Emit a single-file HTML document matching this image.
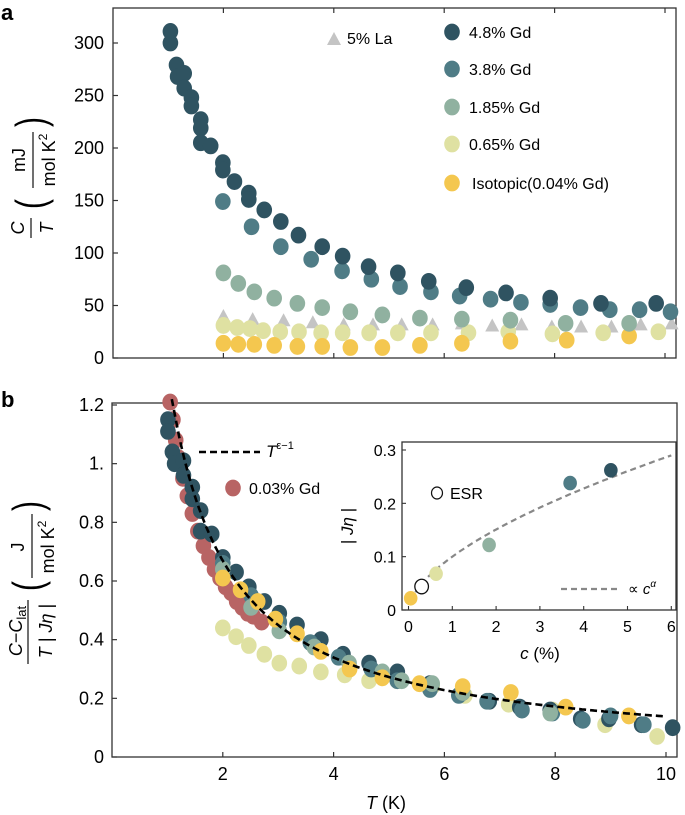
<!DOCTYPE html>
<html><head><meta charset="utf-8"><style>
html,body{margin:0;padding:0;background:#fff}
svg{display:block;font-family:"Liberation Sans",sans-serif}
</style></head><body>
<svg id="fig" width="685" height="815" viewBox="0 0 685 815" xmlns="http://www.w3.org/2000/svg">
<text x="1" y="20" font-size="22" font-weight="bold">a</text>
<text x="1" y="407" font-size="22" font-weight="bold">b</text>
<g id="ga"></g>
<g id="gb"></g>
<g id="gi"></g>
<g transform="translate(33,180) rotate(-90)" font-size="18" text-anchor="middle">
 <text x="-48" y="-9" font-style="italic">C</text>
 <line x1="-58" y1="-2" x2="-38" y2="-2" stroke="#222" stroke-width="1.3"/>
 <text x="-48" y="20" font-style="italic">T</text>
 <text transform="translate(-24,12) scale(1,1.4)" font-size="30">(</text>
 <text x="20" y="-8">mJ</text>
 <line x1="-8" y1="0" x2="48" y2="0" stroke="#222" stroke-width="1.3"/>
 <text x="20" y="22">mol K<tspan font-size="12" dy="-8">2</tspan></text>
 <text transform="translate(58,12) scale(1,1.4)" font-size="30">)</text>
</g>
<g transform="translate(30,600) rotate(-90)" font-size="18" text-anchor="middle">
 <text x="-31" y="-8"><tspan font-style="italic">C</tspan>−<tspan font-style="italic">C</tspan><tspan font-size="13" dy="4">lat</tspan></text>
 <line x1="-64" y1="-2" x2="0" y2="-2" stroke="#222" stroke-width="1.3"/>
 <text x="-31" y="22"><tspan font-style="italic">T</tspan> | <tspan font-style="italic">Jη</tspan> |</text>
 <text transform="translate(14,12) scale(1,1.4)" font-size="30">(</text>
 <text x="53" y="-6">J</text>
 <line x1="22" y1="2" x2="86" y2="2" stroke="#222" stroke-width="1.3"/>
 <text x="53" y="24">mol K<tspan font-size="12" dy="-8">2</tspan></text>
 <text transform="translate(94,12) scale(1,1.4)" font-size="30">)</text>
</g>
<text x="386" y="809" font-size="18" text-anchor="middle"><tspan font-style="italic">T</tspan> (K)</text>
<text x="540" y="659" font-size="17" text-anchor="middle"><tspan font-style="italic">c</tspan> (%)</text>
<text transform="translate(353,526) rotate(-90)" font-size="17" text-anchor="middle">| <tspan font-style="italic">Jη</tspan> |</text>
</svg>
<script>
const aT48=[1.04,1.04,1.15,1.17,1.29,1.29,1.42,1.42,1.59,1.59,1.59,1.77,1.99,1.99,2.2,2.46,2.46,2.74,3.04,3.36,3.79,4.16,4.63,5.16,5.72,6.4,7.12,7.92,8.84,9.84];
const aY48=[311,300,279,268,271,257,248,240,227,219,205,202,186,179,168,157,151,141,130,117,106,97,87,81,73,67,62,57,52,52];
const aT38=[1.99,2.51,3.04,3.59,4.15,4.68,5.2,5.76,6.28,6.84,7.39,7.92,8.47,9.0,9.54,10.1];
const aY38=[149,125,106,94,83,75,68,63,59,56,53,51,48,46,46,44];
const aT185=[2.0,2.27,2.56,2.92,3.34,3.79,4.3,4.88,5.56,6.32,7.2,8.2,9.35];
const aY185=[81,71,63,57,52,48,44,41,38,37,36,33,33];
const aT065=[2.0,2.25,2.48,2.72,3.03,3.37,3.77,4.16,4.64,5.16,5.76,6.44,7.16,7.96,8.88,9.88];
const aY065=[31,29,28,26,25,25,24,24,24,24,24,24,25,23,24,25];
const aTiso=[2,2.27,2.56,2.92,3.34,3.79,4.3,4.88,5.56,6.32,7.2,8.22,9.35];
const aYiso=[14,13,13,12,11,11,10,10,12,14,16,17,21];
const aTLa=[2.0,2.53,3.09,3.62,4.18,4.71,5.23,5.79,6.32,6.87,7.4,7.95,8.48,9.03,9.56,10.12];
const aYLa=[40,37,36,34,32,32,32,32,33,31,32,30,30,30,32,33];
const aYTicks=[0,50,100,150,200,250,300];
const bT003=[1.05,1.1,1.15,1.2,1.28,1.36,1.45,1.55,1.65,1.75,1.85,1.95,2.05,2.15,2.25,2.35,2.45,2.55,2.7];
const bY003=[1.21,1.15,1.08,1.02,0.95,0.89,0.83,0.77,0.72,0.68,0.64,0.61,0.58,0.56,0.53,0.51,0.49,0.48,0.46];
const bT48=[1.01,1.01,1.09,1.13,1.29,1.29,1.45,1.45,1.6,1.6,1.8,2.0,2.24,2.47,2.75,3.02,3.34,3.77,4.17,4.64,5.15,5.74,6.33,6.81,7.36,7.91,8.46,8.97,9.56,10.12];
const bY48=[1.15,1.11,1.04,1.0,1.01,0.96,0.92,0.88,0.84,0.77,0.76,0.68,0.63,0.58,0.53,0.49,0.45,0.4,0.35,0.32,0.29,0.25,0.22,0.19,0.17,0.16,0.13,0.13,0.11,0.10];
const bT38=[2.0,2.51,3.02,3.58,4.09,4.68,5.15,5.74,6.26,6.77,7.4,7.95,8.5,9.0,9.6];
const bY38=[0.66,0.55,0.46,0.39,0.34,0.30,0.26,0.23,0.21,0.19,0.16,0.15,0.125,0.14,0.11];
const bT185=[2.0,2.51,3.02,3.65,4.28,4.88,5.23,5.78,6.33,7.91];
const bY185=[0.64,0.51,0.43,0.375,0.32,0.29,0.26,0.25,0.22,0.15];
const bT065=[2.0,2.24,2.47,2.75,3.02,3.38,3.77,4.2,4.64,5.15,5.78,6.37,7.16,7.95,8.9,9.84];
const bY065=[0.44,0.41,0.38,0.35,0.32,0.31,0.29,0.28,0.26,0.26,0.24,0.21,0.18,0.16,0.11,0.07];
const bTiso=[2.0,2.32,2.63,2.95,3.34,3.77,4.29,4.88,5.55,6.33,7.2,8.19,9.33];
const bYiso=[0.61,0.57,0.53,0.47,0.42,0.36,0.30,0.27,0.25,0.24,0.22,0.17,0.14];
const fitAmp=[1.32];
const fitExp=[-0.98];
const fitRange=[1.08,10];
const bYTicks=[0,0.2,0.4,0.6,0.8,1.0,1.2];
const bYTickLabels=["0","0.2","0.4","0.6","0.8","1.","1.2"];
const xTicks=[2,4,6,8,10];
const iC=[0.05,0.63,1.84,3.69,4.62];
const iJ=[0.022,0.068,0.122,0.238,0.262];
const iESR=[[0.3,0.044]];
const iFitA=[0.1], iFitAlpha=[0.594], iFitRange=[0.05,6];
const iXTicks=[0,1,2,3,4,5,6];
const iYTicks=[0,0.1,0.2,0.3];

const C48="#2f5361",C38="#4f7c86",C185="#90b1a0",C065="#dfe1a2",CISO="#f4c74f",CLA="#c4c4c4",C003="#b86464";
const NS="http://www.w3.org/2000/svg";
function mk(parent,tag,attrs){const e=document.createElementNS(NS,tag);for(const k in attrs)e.setAttribute(k,attrs[k]);parent.appendChild(e);return e;}
const ax=t=>113+t*55.2;
const ay=v=>358-v*(315/300);
const bx=t=>112+t*55.4;
const by=v=>757-v*(352/1.2);
const ix=c=>408.5+c*43.8;
const iy=j=>610-j*(160/0.3);
const R=7.8;
function frame(g,x0,y0,x1,y1,name){
  const r=mk(g,'rect',{x:x0,y:y0,width:x1-x0,height:y1-y0,fill:'none',stroke:'#333','stroke-width':1.3});
  
  
}
function dots(g,xs,ys,fx,fy,col,name,r){
  for(let i=0;i<xs.length;i++){
    const c=mk(g,'ellipse',{cx:fx(xs[i]),cy:fy(ys[i]),rx:r||R,ry:(r||R)+0.6,fill:col});
    
    
  }
}
function tri(g,x,y,col){return mk(g,'polygon',{points:`${x},${y-7} ${x-7},${y+6} ${x+7},${y+6}`,fill:col});}
function txt(g,x,y,s,size,anchor){const t=mk(g,'text',{x:x,y:y,'font-size':size,'text-anchor':anchor||'start'});t.textContent=s;return t;}

const ga=document.getElementById('ga');
frame(ga,113,8,676,358,'panel-a-frame');
aYTicks.forEach(v=>{
  const l=mk(ga,'line',{x1:113,y1:ay(v),x2:118,y2:ay(v),stroke:'#333','stroke-width':1.2});
  
  
  const t=txt(ga,104,ay(v)+6,String(v),18,'end');
  
  
});
xTicks.forEach(v=>{
  [[358,353],[8,13]].forEach(p=>{const l=mk(ga,'line',{x1:ax(v),y1:p[0],x2:ax(v),y2:p[1],stroke:'#333','stroke-width':1.2});
  
  });
});
for(let i=0;i<aTLa.length;i++){const p=tri(ga,ax(aTLa[i]),ay(aYLa[i]),CLA);
  
  }
dots(ga,aT065,aY065,ax,ay,C065,'gd-0.65-point');
dots(ga,aTiso,aYiso,ax,ay,CISO,'isotopic-point');
dots(ga,aT185,aY185,ax,ay,C185,'gd-1.85-point');
dots(ga,aT38,aY38,ax,ay,C38,'gd-3.8-point');
dots(ga,aT48,aY48,ax,ay,C48,'gd-4.8-point');
{const p=tri(ga,334,39,CLA);
 const t=txt(ga,347,44,'5% La',16);}
const legA=[[C48,'4.8% Gd',32],[C38,'3.8% Gd',69],[C185,'1.85% Gd',107],[C065,'0.65% Gd',144],[CISO,'Isotopic(0.04% Gd)',183]];
legA.forEach(L=>{
  const c=mk(ga,'ellipse',{cx:452,cy:L[2],rx:7.8,ry:8.4,fill:L[0]});
  
  
  const t=txt(ga,L[1].startsWith('Iso')?472:469,L[2]+6,L[1],16);
  
  
});

const gb=document.getElementById('gb');
frame(gb,112,403,677,757,'panel-b-frame');
bYTicks.forEach((v,i)=>{
  const l=mk(gb,'line',{x1:112,y1:by(v),x2:117,y2:by(v),stroke:'#333','stroke-width':1.2});
  
  
  const t=txt(gb,104,by(v)+6,bYTickLabels[i],18,'end');
  
  
});
xTicks.forEach(v=>{
  const l=mk(gb,'line',{x1:bx(v),y1:757,x2:bx(v),y2:752,stroke:'#333','stroke-width':1.2});
  
  
  const t=txt(gb,bx(v),780,String(v),18,'middle');
  
  
});
dots(gb,bT003,bY003,bx,by,C003,'gd-0.03-point');
dots(gb,bT065,bY065,bx,by,C065,'gd-0.65-point');
dots(gb,bT48,bY48,bx,by,C48,'gd-4.8-point');
dots(gb,bT38,bY38,bx,by,C38,'gd-3.8-point');
dots(gb,bT185,bY185,bx,by,C185,'gd-1.85-point');
dots(gb,bTiso,bYiso,bx,by,CISO,'isotopic-point');
{let d='';for(let k=0;k<=200;k++){const t=fitRange[0]+(fitRange[1]-fitRange[0])*k/200;const y=Math.min(1.22,fitAmp[0]*Math.pow(t,fitExp[0]));d+=(k?'L':'M')+bx(t).toFixed(1)+','+by(y).toFixed(1);}
 const p=mk(gb,'path',{d:d,fill:'none',stroke:'#000','stroke-width':2.6,'stroke-dasharray':'7,4'});
 
 }
{const l=mk(gb,'line',{x1:199,y1:452,x2:260,y2:452,stroke:'#000','stroke-width':2.6,'stroke-dasharray':'7,4'});
 
 const t=mk(gb,'text',{x:266,y:457,'font-size':17});t.innerHTML='<tspan font-style="italic">T</tspan><tspan font-size="11" dy="-8">ε−1</tspan>';
 
 const c=mk(gb,'ellipse',{cx:233,cy:488,rx:7.8,ry:8.4,fill:C003});
 
 const t2=txt(gb,249,494,'0.03% Gd',16);
 }

const gi=document.getElementById('gi');
{const bg=mk(gi,'rect',{x:402,y:442,width:274,height:168,fill:'#fff'});}
frame(gi,402,442,676,610,'inset-frame');
iYTicks.forEach(v=>{
  const l=mk(gi,'line',{x1:402,y1:iy(v),x2:406,y2:iy(v),stroke:'#333','stroke-width':1.1});
  
  
  const t=txt(gi,396,iy(v)+6,String(v),16,'end');
  
  
});
iXTicks.forEach(v=>{
  const l=mk(gi,'line',{x1:ix(v),y1:610,x2:ix(v),y2:606,stroke:'#333','stroke-width':1.1});
  
  
  const t=txt(gi,ix(v),632,String(v),16,'middle');
  
  
});
{let d='';for(let k=0;k<=150;k++){const c=iFitRange[0]+(iFitRange[1]-iFitRange[0])*Math.pow(k/150,2);d+=(k?'L':'M')+ix(c).toFixed(1)+','+iy(iFitA[0]*Math.pow(c,iFitAlpha[0])).toFixed(1);}
 const p=mk(gi,'path',{d:d,fill:'none',stroke:'#888','stroke-width':2.2,'stroke-dasharray':'6,4'});
 
 }
const iCols=[CISO,C065,C185,C38,C48];
for(let i=0;i<iC.length;i++){
  const c=mk(gi,'ellipse',{cx:ix(iC[i]),cy:iy(iJ[i]),rx:6.8,ry:7.3,fill:iCols[i]});
  
  
}
iESR.forEach(p=>{
  const c=mk(gi,'ellipse',{cx:ix(p[0]),cy:iy(p[1]),rx:6.8,ry:7.3,fill:'#fff',stroke:'#111','stroke-width':1.3});
  
  
});
{const c=mk(gi,'ellipse',{cx:437,cy:493,rx:5.5,ry:6,fill:'#fff',stroke:'#111','stroke-width':1.2});
 
 const t=txt(gi,450,499,'ESR',16);
 const l=mk(gi,'line',{x1:561,y1:589,x2:621,y2:589,stroke:'#888','stroke-width':2.2,'stroke-dasharray':'6,4'});
 
 const t2=mk(gi,'text',{x:628,y:594,'font-size':15});t2.innerHTML='∝ <tspan font-style="italic">c</tspan><tspan font-size="10" dy="-7" font-style="italic">α</tspan>';
 }
</script>
</body></html>
